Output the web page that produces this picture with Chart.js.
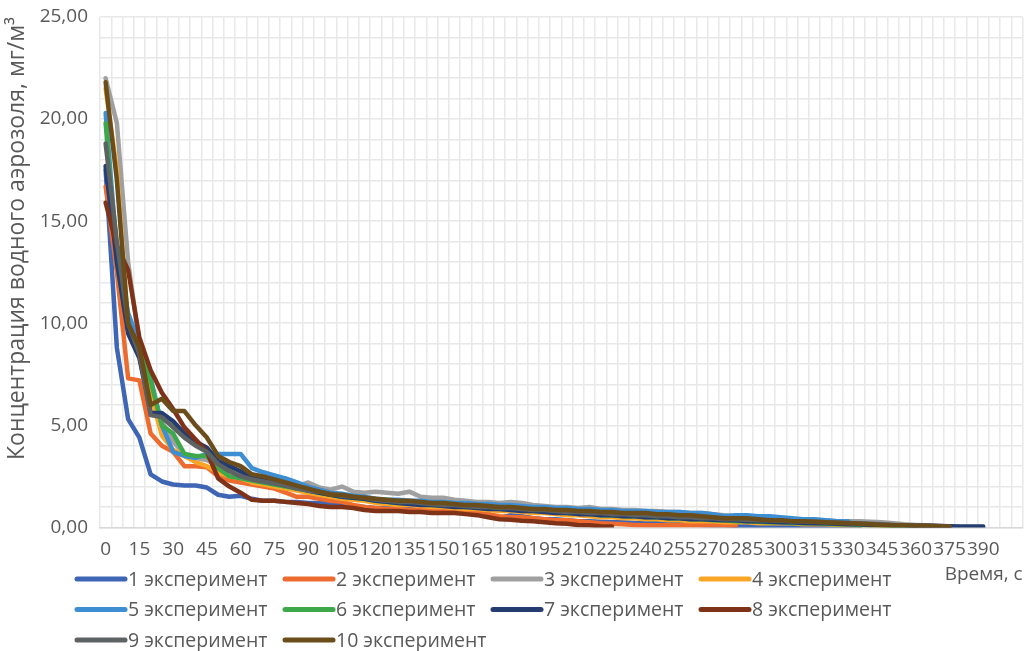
<!DOCTYPE html>
<html>
<head>
<meta charset="utf-8">
<script src="https://cdn.jsdelivr.net/npm/chart.js@4"></script>
<style>
  html, body { margin: 0; padding: 0; background: #fff; }
  #wrap { width: 1028px; height: 651px; }
</style>
</head>
<body>
<div id="wrap"><canvas id="aerosol"></canvas></div>
<script>
// time axis, every 5 s
const times = Array.from({ length: 82 }, (_, i) => i * 5);

const seriesNames = [
  '1 эксперимент', '2 эксперимент', '3 эксперимент', '4 эксперимент', '5 эксперимент',
  '6 эксперимент', '7 эксперимент', '8 эксперимент', '9 эксперимент', '10 эксперимент'
];

const seriesColors = [
  '#3F65B5', '#EE6B2F', '#A0A0A0', '#F9A627', '#3D8ED3',
  '#3EA94B', '#243C70', '#7E3319', '#5D6262', '#6B4D1C'
];

// concentration, mg/m3
const exp1 = [17.5, 8.8, 5.3, 4.4, 2.6, 2.25, 2.1, 2.05, 2.05, 1.95, 1.6, 1.5, 1.55, 1.4, 1.3, 1.3, 1.25, 1.25, 1.2, 1.2,
  1.15, 1.1, 1.05, 1.0, 0.95, 0.95, 0.9, 0.9, 0.85, 0.85, 0.8, 0.8, 0.75, 0.7, 0.65, 0.45, 0.6, 0.55, 0.45, 0.4,
  0.4, 0.35, 0.3, 0.3, 0.28, 0.25, 0.25, 0.22, 0.2, 0.2, 0.18, 0.15, 0.15, 0.12, 0.1, 0.1, 0.08, 0.08, 0.06, 0.05,
  0.05, 0.05, 0.04, 0.04, 0.03, 0.03, 0.02, 0.02];
const exp2 = [16.7, 12.5, 7.3, 7.2, 4.6, 4.0, 3.7, 3.0, 3.0, 2.95, 2.5, 2.3, 2.2, 2.1, 2.0, 1.9, 1.7, 1.5, 1.5, 1.4,
  1.3, 1.25, 1.1, 1.0, 0.95, 0.9, 0.9, 0.85, 0.85, 0.8, 0.8, 0.8, 0.75, 0.75, 0.65, 0.55, 0.5, 0.5, 0.45, 0.4,
  0.35, 0.35, 0.3, 0.25, 0.2, 0.18, 0.15, 0.12, 0.1, 0.1, 0.1, 0.1, 0.1, 0.1, 0.1, 0.1, 0.08];
const exp3 = [22.0, 19.8, 13.0, 9.0, 6.3, 5.2, 4.2, 3.6, 3.4, 3.3, 3.0, 2.8, 2.6, 2.45, 2.35, 2.25, 2.15, 2.0, 2.2, 1.95,
  1.85, 2.0, 1.75, 1.7, 1.75, 1.7, 1.65, 1.75, 1.5, 1.45, 1.45, 1.35, 1.3, 1.25, 1.25, 1.2, 1.25, 1.2, 1.1, 1.05,
  1.0, 1.0, 0.95, 1.0, 0.9, 0.9, 0.85, 0.85, 0.8, 0.8, 0.75, 0.75, 0.7, 0.7, 0.65, 0.6, 0.55, 0.5, 0.5, 0.45,
  0.45, 0.4, 0.4, 0.35, 0.35, 0.3, 0.3, 0.3, 0.28, 0.25, 0.2, 0.15, 0.12, 0.1, 0.08, 0.05];
const exp4 = [21.5, 17.5, 9.8, 8.5, 6.5, 4.5, 3.8, 3.5, 3.2, 3.0, 2.7, 2.5, 2.4, 2.2, 2.1, 2.0, 1.9, 1.8, 1.7, 1.6,
  1.5, 1.4, 1.35, 1.3, 1.2, 1.15, 1.1, 1.1, 1.05, 1.0, 1.0, 0.95, 0.9, 0.9, 0.85, 0.8, 0.8, 0.75, 0.7, 0.7,
  0.65, 0.6, 0.6, 0.55, 0.5, 0.5, 0.45, 0.45, 0.4, 0.4, 0.35, 0.35, 0.3, 0.3, 0.3, 0.25, 0.25, 0.25, 0.2, 0.2,
  0.2, 0.2, 0.15, 0.15, 0.15, 0.12, 0.1, 0.1, 0.1, 0.08, 0.08, 0.06, 0.05, 0.05, 0.05, 0.04];
const exp5 = [20.3, 13.5, 10.5, 9.0, 7.3, 5.0, 3.7, 3.5, 3.4, 3.6, 3.6, 3.6, 3.6, 2.9, 2.7, 2.55, 2.4, 2.2, 2.0, 1.85,
  1.7, 1.65, 1.55, 1.5, 1.4, 1.35, 1.35, 1.3, 1.3, 1.25, 1.25, 1.2, 1.2, 1.15, 1.15, 1.1, 1.1, 1.05, 1.0, 1.0,
  0.95, 0.95, 0.9, 0.9, 0.85, 0.85, 0.8, 0.8, 0.8, 0.75, 0.75, 0.75, 0.7, 0.7, 0.65, 0.55, 0.6, 0.6, 0.55, 0.55,
  0.5, 0.45, 0.4, 0.4, 0.35, 0.3, 0.3];
const exp6 = [19.8, 13.0, 9.6, 8.8, 7.2, 5.0, 4.6, 3.6, 3.5, 3.5, 2.9, 2.5, 2.4, 2.3, 2.2, 2.1, 2.0, 1.9, 1.8, 1.7,
  1.6, 1.5, 1.45, 1.4, 1.3, 1.25, 1.2, 1.2, 1.15, 1.1, 1.1, 1.05, 1.0, 1.0, 0.95, 0.9, 0.9, 0.85, 0.8, 0.8,
  0.75, 0.7, 0.7, 0.65, 0.6, 0.6, 0.55, 0.55, 0.5, 0.5, 0.45, 0.45, 0.4, 0.4, 0.35, 0.35, 0.3, 0.3, 0.28, 0.25,
  0.25, 0.22, 0.2, 0.2, 0.18, 0.15, 0.15, 0.12, 0.1, 0.1, 0.08, 0.06, 0.05];
const exp7 = [17.7, 13.0, 9.5, 8.3, 5.6, 5.6, 5.2, 4.6, 4.2, 3.9, 3.25, 3.0, 2.75, 2.45, 2.35, 2.2, 2.05, 1.95, 1.8, 1.7,
  1.6, 1.5, 1.45, 1.4, 1.3, 1.25, 1.2, 1.15, 1.1, 1.1, 1.05, 1.0, 1.0, 0.95, 0.9, 0.9, 0.85, 0.8, 0.8, 0.75,
  0.7, 0.7, 0.65, 0.65, 0.6, 0.6, 0.55, 0.55, 0.5, 0.5, 0.45, 0.45, 0.4, 0.4, 0.38, 0.35, 0.35, 0.3, 0.3, 0.28,
  0.25, 0.25, 0.22, 0.2, 0.2, 0.18, 0.15, 0.15, 0.12, 0.12, 0.1, 0.1, 0.08, 0.08, 0.07, 0.06, 0.05, 0.05, 0.04];
const exp8 = [15.9, 13.8, 12.6, 9.3, 7.7, 6.6, 5.8, 4.9, 4.3, 3.7, 2.4, 2.0, 1.7, 1.35, 1.3, 1.3, 1.25, 1.2, 1.15, 1.05,
  1.0, 1.0, 0.95, 0.85, 0.8, 0.8, 0.8, 0.75, 0.75, 0.7, 0.7, 0.7, 0.65, 0.6, 0.5, 0.4, 0.38, 0.33, 0.3, 0.25,
  0.2, 0.18, 0.12, 0.1, 0.06, 0.05];
const exp9 = [18.8, 14.0, 10.0, 8.5, 5.5, 5.4, 4.9, 4.4, 4.0, 3.7, 3.1, 2.75, 2.5, 2.35, 2.25, 2.15, 2.05, 1.9, 1.8, 1.75,
  1.65, 1.55, 1.5, 1.45, 1.35, 1.3, 1.25, 1.25, 1.2, 1.15, 1.1, 1.1, 1.05, 1.0, 1.0, 0.95, 0.95, 0.9, 0.85, 0.85,
  0.8, 0.75, 0.75, 0.7, 0.7, 0.65, 0.65, 0.6, 0.6, 0.55, 0.55, 0.5, 0.5, 0.45, 0.45, 0.4, 0.4, 0.38, 0.35, 0.35,
  0.32, 0.3, 0.3, 0.28, 0.25, 0.25, 0.22, 0.2, 0.18, 0.15, 0.12, 0.1, 0.08, 0.07, 0.06, 0.05];
const exp10 = [21.8, 17.0, 10.0, 8.8, 6.0, 6.3, 5.7, 5.7, 5.0, 4.4, 3.5, 3.2, 3.0, 2.6, 2.5, 2.35, 2.2, 2.05, 1.9, 1.75,
  1.6, 1.6, 1.5, 1.45, 1.4, 1.35, 1.3, 1.3, 1.25, 1.2, 1.2, 1.15, 1.1, 1.1, 1.05, 1.0, 1.0, 0.95, 0.9, 0.9,
  0.85, 0.85, 0.8, 0.8, 0.75, 0.75, 0.7, 0.7, 0.7, 0.65, 0.65, 0.6, 0.6, 0.55, 0.5, 0.45, 0.45, 0.45, 0.4, 0.35,
  0.35, 0.3, 0.3, 0.28, 0.25, 0.22, 0.2, 0.18, 0.15, 0.12, 0.1, 0.1, 0.08, 0.08, 0.06, 0.05];

const allSeries = [exp1, exp2, exp3, exp4, exp5, exp6, exp7, exp8, exp9, exp10];

const fontFamily = '"Open Sans", "Noto Sans", sans-serif';
const textColor = '#595959';
const gridColor = '#e8e8e8';

// legend drawn as a grid of 4 columns like in Excel
const gridLegend = {
  id: 'gridLegend',
  afterDraw(chart) {
    const ctx = chart.ctx;
    ctx.save();
    ctx.font = '19.5px ' + fontFamily;
    ctx.textBaseline = 'middle';
    ctx.lineCap = 'round';
    ctx.lineWidth = 5;
    seriesNames.forEach((name, i) => {
      const x = 77 + (i % 4) * 208;
      const y = 579 + Math.floor(i / 4) * 30.5;
      ctx.strokeStyle = seriesColors[i];
      ctx.beginPath();
      ctx.moveTo(x, y);
      ctx.lineTo(x + 48, y);
      ctx.stroke();
      ctx.fillStyle = textColor;
      ctx.fillText(name, x + 51, y + 1);
    });
    ctx.restore();
  }
};

const datasets = allSeries.map((values, i) => ({
  label: seriesNames[i],
  data: values,
  borderColor: seriesColors[i],
  backgroundColor: seriesColors[i],
  borderWidth: 4.5,
  borderJoinStyle: 'round',
  borderCapStyle: 'round',
  pointRadius: 0,
  tension: 0,
  order: allSeries.length - i
}));

const config = {
  type: 'line',
  data: { labels: times, datasets: datasets },
  options: {
    responsive: true,
    maintainAspectRatio: false,
    animation: false,
    layout: {
      padding: { top: 0, right: 3, bottom: 63, left: 0 }
    },
    plugins: {
      legend: { display: false },
      tooltip: { enabled: false }
    },
    scales: {
      x: {
        offset: true,
        grid: { color: gridColor, lineWidth: 1.5, offset: true, drawTicks: false },
        border: { color: '#d9d9d9', width: 1.5 },
        ticks: {
          autoSkip: false,
          maxRotation: 0,
          minRotation: 0,
          padding: 11,
          color: textColor,
          font: { family: fontFamily, size: 19 },
          callback: function(value, index) {
            const t = times[index];
            return (t % 15 === 0 && t <= 390) ? String(t) : '';
          }
        },
        title: {
          display: true,
          text: 'Время, с',
          align: 'end',
          color: textColor,
          font: { family: fontFamily, size: 19 },
          padding: { top: -9, bottom: 2 }
        }
      },
      y: {
        min: 0,
        max: 25,
        grid: { color: gridColor, lineWidth: 1.5, drawTicks: false },
        border: { display: false },
        ticks: {
          stepSize: 1,
          autoSkip: false,
          padding: 12,
          color: textColor,
          font: { family: fontFamily, size: 19 },
          callback: function(value) {
            return value % 5 === 0 ? value.toFixed(2).replace('.', ',') : '';
          }
        },
        title: {
          display: true,
          text: 'Концентрация водного аэрозоля, мг/м³',
          align: 'end',
          color: textColor,
          font: { family: fontFamily, size: 23 },
          padding: { top: 4, bottom: 0 }
        },
        afterFit: function(scale) {
          scale.width = 100;
          scale.paddingTop = 17;
        }
      }
    }
  },
  plugins: [gridLegend]
};

const aerosolChart = new Chart(document.getElementById('aerosol'), config);
</script>
</body>
</html>
